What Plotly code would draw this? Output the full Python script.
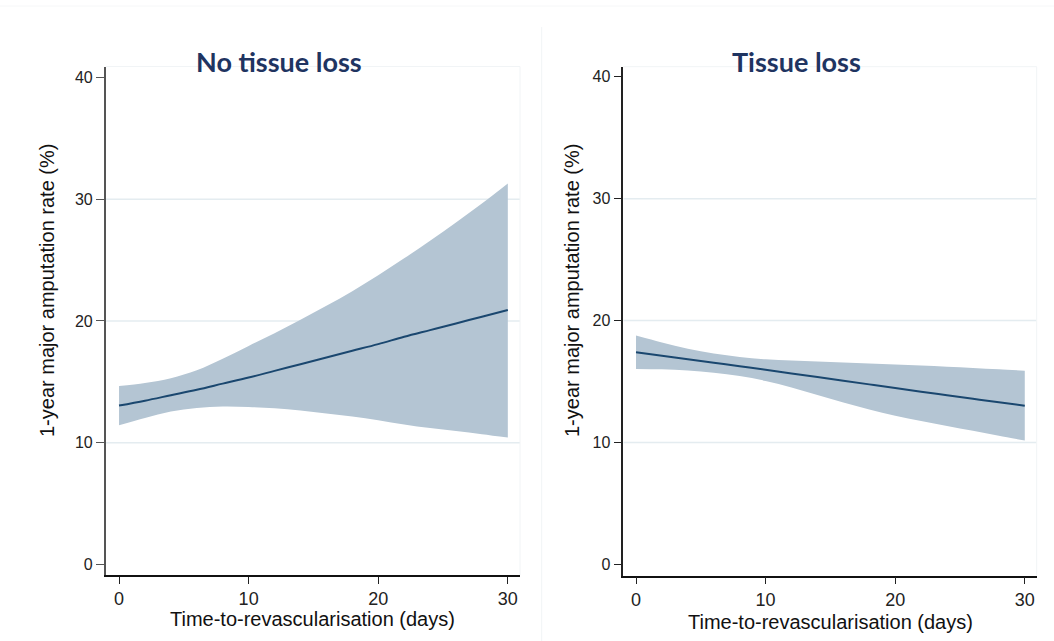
import plotly.graph_objects as go

# Days since presentation at which predictions are tabulated
days = [0, 2, 4, 6, 8, 10, 12, 14, 16, 18, 20, 22, 24, 26, 28, 30]

# No tissue loss: predicted 1-year major amputation rate (%) with 95% CI
no_loss_pred = [13.05, 13.45, 13.9, 14.35, 14.85, 15.35, 15.9, 16.45, 17.0, 17.55, 18.1, 18.7, 19.25, 19.8, 20.35, 20.9]
no_loss_upper = [14.65, 14.9, 15.3, 15.95, 16.9, 17.95, 19.0, 20.1, 21.25, 22.45, 23.75, 25.15, 26.6, 28.1, 29.65, 31.3]
no_loss_lower = [11.43, 12.02, 12.55, 12.85, 12.97, 12.93, 12.82, 12.64, 12.4, 12.15, 11.85, 11.5, 11.2, 10.95, 10.7, 10.42]

# Tissue loss: predicted 1-year major amputation rate (%) with 95% CI
loss_pred = [17.40, 17.12, 16.83, 16.55, 16.26, 15.97, 15.67, 15.37, 15.07, 14.77, 14.47, 14.17, 13.88, 13.59, 13.30, 13.02]
loss_upper = [18.77, 18.2, 17.7, 17.3, 17.02, 16.83, 16.72, 16.64, 16.56, 16.48, 16.40, 16.31, 16.21, 16.11, 16.0, 15.89]
loss_lower = [16.03, 16.0, 15.9, 15.72, 15.45, 15.05, 14.52, 13.9, 13.28, 12.7, 12.2, 11.76, 11.36, 10.96, 10.56, 10.16]

panel_titles = ["No tissue loss", "Tissue loss"]
x_title = "Time-to-revascularisation (days)"
y_title = "1-year major amputation rate (%)"
x_ticks = [0, 10, 20, 30]
y_ticks = [0, 10, 20, 30, 40]

W, H = 1054, 641
BAND = "#b4c5d3"
LINE = "#1a476f"
GRID = "#e4ecf0"
TITLE_COLOR = "#1f3461"
FONT = "Liberation Sans, Arial, sans-serif"


def px(x):
    return x / W


def py(y):
    return 1 - y / H


fig = go.Figure()

panels = [
    (no_loss_pred, no_loss_upper, no_loss_lower, "x", "y"),
    (loss_pred, loss_upper, loss_lower, "x2", "y2"),
]
for pred, upper, lower, xa, ya in panels:
    fig.add_trace(go.Scatter(x=days, y=lower, mode="lines", line=dict(width=0, shape="spline"),
                             hoverinfo="skip", showlegend=False, xaxis=xa, yaxis=ya))
    fig.add_trace(go.Scatter(x=days, y=upper, mode="lines", line=dict(width=0, shape="spline"),
                             fill="tonexty", fillcolor=BAND, hoverinfo="skip",
                             showlegend=False, xaxis=xa, yaxis=ya))
    fig.add_trace(go.Scatter(x=days, y=pred, mode="lines", line=dict(color=LINE, width=2, shape="spline"),
                             showlegend=False, xaxis=xa, yaxis=ya))

common_x = dict(tickvals=x_ticks, ticks="outside", ticklen=7, tickwidth=1.3, tickcolor="#222",
                showline=True, linecolor="#111", linewidth=1.5, showgrid=False, zeroline=False,
                tickfont=dict(family=FONT, size=18, color="#222"))
common_y = dict(tickvals=y_ticks, ticks="outside", ticklen=8, tickwidth=1.3,
                showline=True, linewidth=1.5, showgrid=False, zeroline=False,
                tickfont=dict(family=FONT, size=16, color="#222"))

fig.update_layout(
    width=W, height=H, margin=dict(l=0, r=0, t=0, b=0),
    paper_bgcolor="white", plot_bgcolor="white",
    xaxis=dict(domain=[px(105.7), px(520)], range=[-1.03, 30.94], anchor="y", **common_x),
    yaxis=dict(domain=[py(575), py(66.5)], range=[-0.88, 40.92], anchor="x",
               linecolor="#555", tickcolor="#555", **common_y),
    xaxis2=dict(domain=[px(623.3), px(1036.7)], range=[-0.98, 30.92], anchor="y2", **common_x),
    yaxis2=dict(domain=[py(575.7), py(66.7)], range=[-0.92, 40.82], anchor="x2",
                linecolor="#222", tickcolor="#222", **common_y),
)

# Horizontal reference lines at the inner tick values
shapes = []
for xr, yr, x0, x1 in [("x", "y", -1.03, 30.94), ("x2", "y2", -0.98, 30.92)]:
    for v in [10, 20, 30]:
        shapes.append(dict(type="line", xref=xr, yref=yr, x0=x0, x1=x1, y0=v, y1=v,
                           line=dict(color=GRID, width=1.5), layer="below"))
# Faint plot-region and graph-region outlines
faint = "#f1f4f6"
shapes += [
    dict(type="line", xref="paper", yref="paper", x0=px(105.7), x1=px(520), y0=py(66.5), y1=py(66.5),
         line=dict(color=faint, width=1)),
    dict(type="line", xref="paper", yref="paper", x0=px(520), x1=px(520), y0=py(66.5), y1=py(575),
         line=dict(color=faint, width=1)),
    dict(type="line", xref="paper", yref="paper", x0=px(623.3), x1=px(1036.7), y0=py(66.7), y1=py(66.7),
         line=dict(color=faint, width=1)),
    dict(type="line", xref="paper", yref="paper", x0=px(1036.7), x1=px(1036.7), y0=py(66.7), y1=py(575.7),
         line=dict(color=faint, width=1)),
    dict(type="line", xref="paper", yref="paper", x0=px(541.7), x1=px(541.7), y0=py(27), y1=0,
         line=dict(color=faint, width=1)),
    dict(type="line", xref="paper", yref="paper", x0=0, x1=1, y0=py(6), y1=py(6),
         line=dict(color="#f6f7f8", width=1)),
]
fig.update_layout(shapes=shapes)

ann = []
for title, cx in zip(panel_titles, [279, 796]):
    ann.append(dict(text=f"<b>{title}</b>", x=px(cx), y=py(61), xref="paper", yref="paper",
                    xanchor="center", yanchor="middle", showarrow=False,
                    font=dict(family="Lato, Open Sans, sans-serif", size=27, color=TITLE_COLOR)))
for cx, cy in [(312.9, 619), (830, 622)]:
    ann.append(dict(text=x_title, x=px(cx), y=py(cy), xref="paper", yref="paper",
                    xanchor="center", yanchor="middle", showarrow=False,
                    font=dict(family=FONT, size=20, color="#111")))
for cx in [47, 572]:
    ann.append(dict(text=y_title, x=px(cx), y=py(291), xref="paper", yref="paper",
                    xanchor="center", yanchor="middle", textangle=-90, showarrow=False,
                    font=dict(family=FONT, size=20, color="#111")))
fig.update_layout(annotations=ann)

fig.write_html("out.html")
